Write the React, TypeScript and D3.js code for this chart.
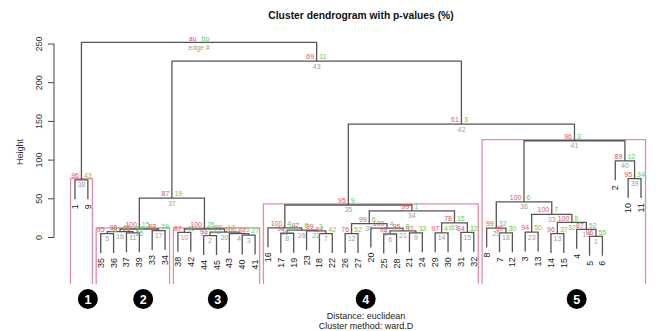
import React from "react";
import * as d3 from "d3";

// leaf order along the x axis (observation numbers)
const leafOrder = [1, 9, 35, 36, 37, 39, 33, 34, 38, 42, 44, 45, 43, 40, 41, 16, 17, 19, 23, 18, 22, 26, 27, 20, 25, 28, 21, 24, 29, 30, 31, 32, 8, 7, 12, 3, 13, 14, 15, 4, 5, 6, 2, 10, 11];

// merges, R hclust style: negative = observation, positive = edge #
const edgeId = [1, 2, 3, 4, 5, 6, 7, 8, 9, 10, 11, 12, 13, 14, 15, 16, 17, 18, 19, 20, 21, 22, 23, 24, 25, 26, 27, 28, 29, 30, 31, 32, 33, 34, 35, 36, 37, 38, 39, 40, 41, 42, 43, 44];
const edgeLeft = [-5, -44, -40, -43, -35, -25, -18, -17, -21, -38, -37, -26, -14, -29, -31, 5, -33, -7, -4, 2, 6, -23, -3, -20, 16, 8, 10, -16, -8, 12, 14, 13, 23, 30, 28, 29, 25, -1, -10, -2, 36, 35, 37, 38];
const edgeRight = [-6, -45, -41, 3, -36, -28, -22, -19, -24, -42, -39, -27, -15, -30, -32, 11, -34, -12, 1, 4, 9, 7, -13, 21, 17, 22, 20, 26, 18, 24, 15, 19, 32, 31, 34, 33, 27, -9, -11, 39, 40, 41, 42, 43];
const edgeHeight = [1.5, 2.5, 3, 5, 5, 4.5, 5, 5.5, 6, 6.5, 6, 5, 5, 6, 6.5, 7.5, 9, 6, 10.5, 7, 8.5, 8.5, 7, 12, 11, 9.5, 11, 12.5, 12, 18, 19, 19.5, 30, 34.5, 42, 46, 51, 74.5, 76, 99, 125, 146.5, 228, 252];
const edgeAu = [96, 91, 87, 100, 95, 98, 94, 94, 92, 87, 91, 76, 96, 97, 84, 98, 88, 99, 87, 99, 95, 99, 94, 100, 100, 97, 100, 100, 99, 99, 78, 100, 100, 99, 95, 100, 87, 96, 95, 89, 96, 61, 69, 100];
const edgeBp = [55, 72, 27, 23, 38, 42, 42, 27, 33, 46, 34, 52, 37, 47, 32, 41, 29, 30, 52, 17, 8, 3, 50, 4, 15, 6, 26, 4, 32, 6, 15, 8, 7, 1, 9, 6, 19, 43, 34, 12, 3, 3, 11, 100];
const rootLabels = ["au", "bp", "edge #"];

const yTicks = [0, 50, 100, 150, 200, 250];
const badgeLabels = ["1", "2", "3", "4", "5"];
const badgeAt = [2, 6.3, 12.1, 23.6, 40]; // in leaf-position units
const captionLines = ["Distance:  euclidean", "Cluster method: ward.D"];

const AU_COL = "#DF536B";
const BP_COL = "#61D04F";
const EDGE_COL = "#9E9E9E";
const RECT_COL = "#e58ea2";
const FONT = "'Liberation Sans', Arial, sans-serif";

export default function App() {
  const width = 656;
  const height = 331;

  const x = d3.scalePoint<string>().domain(leafOrder.map(String)).range([75, 641]);
  const xIdx = d3.scaleLinear().domain([1, leafOrder.length]).range([75, 641]);
  const y = d3.scaleLinear().domain([0, 250]).range([237.5, 44]);

  const hang = 0.1 * (d3.max(edgeHeight)! - d3.min(edgeHeight)!);
  const rootId = edgeId[edgeId.length - 1];

  // node x = mean of child x, like plot.hclust
  const nodeX = new Map<number, number>();
  const cx = (ref: number) => (ref < 0 ? x(String(-ref))! : nodeX.get(ref)!);
  edgeId.forEach((id, i) => nodeX.set(id, (cx(edgeLeft[i]) + cx(edgeRight[i])) / 2));
  const hOf = new Map(edgeId.map((id, i) => [id, edgeHeight[i]]));

  const members = (ref: number): number[] => {
    if (ref < 0) return [-ref];
    const i = edgeId.indexOf(ref);
    return [...members(edgeLeft[i]), ...members(edgeRight[i])];
  };

  // pvrect: au >= 95, max.only
  const boxes: { x0: number; x1: number; top: number }[] = [];
  const taken: number[] = [];
  for (let i = edgeId.length - 2; i >= 0; i--) {
    if (edgeAu[i] < 95) continue;
    const idx = members(edgeId[i]).map((m) => leafOrder.indexOf(m) + 1);
    if (!idx.some((k) => taken.includes(k))) {
      const mx = 47.52 / leafOrder.length / 3;
      boxes.push({
        x0: xIdx(d3.min(idx)! - mx),
        x1: xIdx(d3.max(idx)! + mx),
        top: y(edgeHeight[i]) - 1.2,
      });
    }
    taken.push(...idx);
  }

  const links: string[] = [];
  const leaves: { label: number; x: number; y: number }[] = [];
  edgeId.forEach((id, i) => {
    const h = edgeHeight[i];
    const kids = [edgeLeft[i], edgeRight[i]];
    const bottoms = kids.map((k) => (k < 0 ? h - hang : hOf.get(k)!));
    const [xl, xr] = kids.map(cx);
    links.push(`M${xl},${y(bottoms[0])}V${y(h)}H${xr}V${y(bottoms[1])}`);
    kids.forEach((k, j) => {
      if (k < 0) leaves.push({ label: -k, x: cx(k), y: y(bottoms[j]) });
    });
  });

  return (
    <div style={{ position: "absolute", left: 0, top: 0 }}>
      <svg width={width} height={height} style={{ display: "block", background: "#fff" }} fontFamily={FONT}>
        <text x={361} y={19} textAnchor="middle" fontSize={10.3} fontWeight="bold" fill="#111">
          Cluster dendrogram with p-values (%)
        </text>

        {/* y axis */}
        <line x1={54} x2={54} y1={y(0)} y2={y(250)} stroke="#444" />
        {yTicks.map((t) => (
          <g key={t}>
            <line x1={48} x2={54} y1={y(t)} y2={y(t)} stroke="#444" />
            <text transform={`translate(42,${y(t)}) rotate(-90)`} textAnchor="middle" fontSize={9} fill="#333">
              {t}
            </text>
          </g>
        ))}
        <text transform={`translate(23,152) rotate(-90)`} textAnchor="middle" fontSize={9} fill="#333">
          Height
        </text>

        {/* pvrect boxes */}
        {boxes.map((b, i) => (
          <path key={i} d={`M${b.x0},284V${b.top}H${b.x1}V284`} fill="none" stroke={RECT_COL} strokeWidth={1.3} />
        ))}

        {/* tree */}
        {links.map((d, i) => (
          <path key={i} d={d} fill="none" stroke="#555" strokeWidth={1.3} />
        ))}

        {leaves.map((l) => (
          <text key={l.label} transform={`translate(${l.x + 3},${l.y + 5}) rotate(-90)`} textAnchor="end" fontSize={9} fill="#222">
            {l.label}
          </text>
        ))}

        {/* au / bp / edge # */}
        {edgeId.map((id, i) => {
          const nx = nodeX.get(id)!;
          const ny = y(edgeHeight[i]);
          const isRoot = id === rootId;
          return (
            <g key={id} fontSize={7}>
              <text x={nx - 2.5} y={ny - 1.8} textAnchor="end" fill={AU_COL}>
                {isRoot ? rootLabels[0] : edgeAu[i]}
              </text>
              <text x={nx + 2.5} y={ny - 1.8} textAnchor="start" fill={BP_COL}>
                {isRoot ? rootLabels[1] : edgeBp[i]}
              </text>
              <text x={nx} y={ny + 7.5} textAnchor="middle" fill={EDGE_COL}>
                {isRoot ? rootLabels[2] : id}
              </text>
            </g>
          );
        })}

        {/* cluster badges */}
        {badgeLabels.map((b, i) => (
          <g key={b} transform={`translate(${xIdx(badgeAt[i])},299)`}>
            <circle r={10} fill="#000" />
            <text y={4.5} textAnchor="middle" fontSize={12.5} fontWeight="bold" fill="#fff">
              {b}
            </text>
          </g>
        ))}

        {captionLines.map((c, i) => (
          <text key={i} x={366} y={319 + i * 10} textAnchor="middle" fontSize={9} fill="#222">
            {c}
          </text>
        ))}
      </svg>
    </div>
  );
}
